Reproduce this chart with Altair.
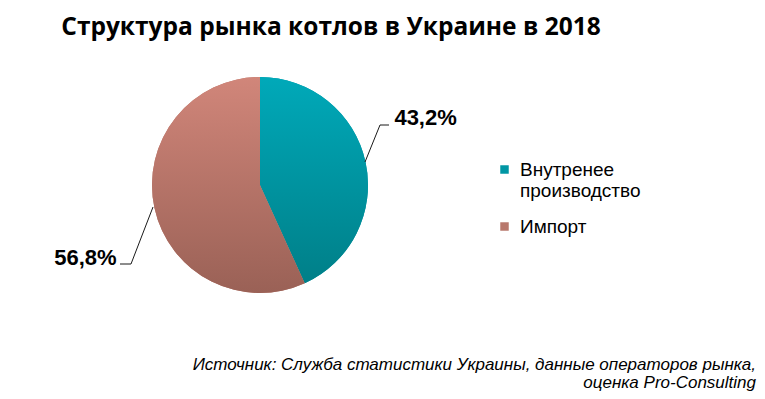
import altair as alt
import pandas as pd

categories = ["Внутренее производство", "Импорт"]
shares = [43.2, 56.8]
labels = ["43,2%", "56,8%"]
order = [0, 1]
title_text = "Структура рынка котлов в Украине в 2018"
source_lines = ["Источник: Служба статистики Украины, данные операторов  рынка,",
                "оценка Pro-Consulting"]

df = pd.DataFrame({"cat": categories, "share": shares, "label": labels, "ord": order})

T = 6  # top padding
CX, CY, R = 252, 177 - T, 108
W, H = 749, 383 - T

base = alt.Chart(df).transform_window(
    end="sum(share)", sort=[alt.SortField("ord")], frame=[None, 0]
).transform_calculate(
    start="datum.end - datum.share", mid="datum.end - datum.share/2"
)

theta_scale = alt.Scale(domain=[0, 100], range=[0, 6.283185307])

solid = base.mark_arc(outerRadius=R).encode(
    theta=alt.Theta("start:Q", scale=theta_scale),
    theta2="end:Q",
    color=alt.Color("cat:N", scale=alt.Scale(domain=categories, range=["#0096A4", "#B8786C"]),
                    legend=alt.Legend(title=None, orient="none", legendX=487, legendY=152 - T,
                                      symbolType="square", symbolSize=72, symbolStrokeWidth=0,
                                      labelFont="Liberation Sans", labelFontSize=19, labelColor="#000000",
                                      labelLimit=300, rowPadding=16, labelOffset=6,
                                      labelExpr="datum.label == 'Внутренее производство' ? ['Внутренее', 'производство'] : datum.label")),
    x=alt.value(CX), y=alt.value(CY),
)

grad_teal = alt.LinearGradient(gradient="linear", x1=0, y1=0, x2=0, y2=1,
                               stops=[alt.GradientStop(color="#00A9B9", offset=0),
                                      alt.GradientStop(color="#007F88", offset=1)])
grad_sal = alt.LinearGradient(gradient="linear", x1=0, y1=0, x2=0, y2=1,
                              stops=[alt.GradientStop(color="#D1867A", offset=0),
                                     alt.GradientStop(color="#9A6156", offset=1)])

def garc(cat, grad):
    return base.transform_filter(alt.datum.cat == cat).mark_arc(outerRadius=R, fill=grad).encode(
        theta=alt.Theta("start:Q", scale=theta_scale), theta2="end:Q",
        x=alt.value(CX), y=alt.value(CY))

arcs = garc(categories[0], grad_teal) + garc(categories[1], grad_sal)

def lab(cat, dx, dy):
    return base.transform_filter(alt.datum.cat == cat).mark_text(
        radius=150, dx=dx, dy=dy, font="Liberation Sans", fontSize=22, fontWeight="bold",
        color="#000000").encode(
        theta=alt.Theta("mid:Q", scale=theta_scale), text="label:N",
        x=alt.value(CX), y=alt.value(CY))

texts = lab(categories[0], 19, -35) + lab(categories[1], -28, 41)

def rule(x1, y1, x2, y2):
    return alt.Chart(df).transform_filter(alt.datum.ord == 0).mark_rule(color="#1a1a1a", strokeWidth=1).encode(
        x=alt.value(x1), y=alt.value(y1 - T), x2=alt.value(x2), y2=alt.value(y2 - T))

leaders = (rule(357, 154, 372, 117) + rule(372, 117, 381, 117) +
           rule(145, 199, 123, 256) + rule(123, 256, 112, 256))

title = alt.Chart(df).transform_filter(alt.datum.ord == 0).mark_text(
    font="Open Sans", fontSize=24.5, fontWeight="bold", align="center", baseline="alphabetic",
    color="#000000").encode(text=alt.value(title_text), x=alt.value(323), y=alt.value(26.5 - T))

src = alt.Chart(pd.DataFrame({"t": source_lines, "i": [0, 1]})).mark_text(
    font="Liberation Sans", fontSize=17, fontStyle="italic", align="right", baseline="alphabetic",
    color="#000000").encode(text="t:N", x=alt.value(748),
                            y=alt.Y("i:Q", scale=alt.Scale(domain=[0, 1], range=[362 - T, 380 - T]), axis=None))

chart = alt.layer(solid, arcs, leaders, texts, title, src).properties(
    width=W, height=H, padding={"top": T, "left": 0, "right": 0, "bottom": 0},
    autosize=alt.AutoSizeParams(type="none")
).configure_view(stroke=None).resolve_scale(y="independent")

chart.save("out.html", embed_options={"renderer": "svg", "actions": False})
